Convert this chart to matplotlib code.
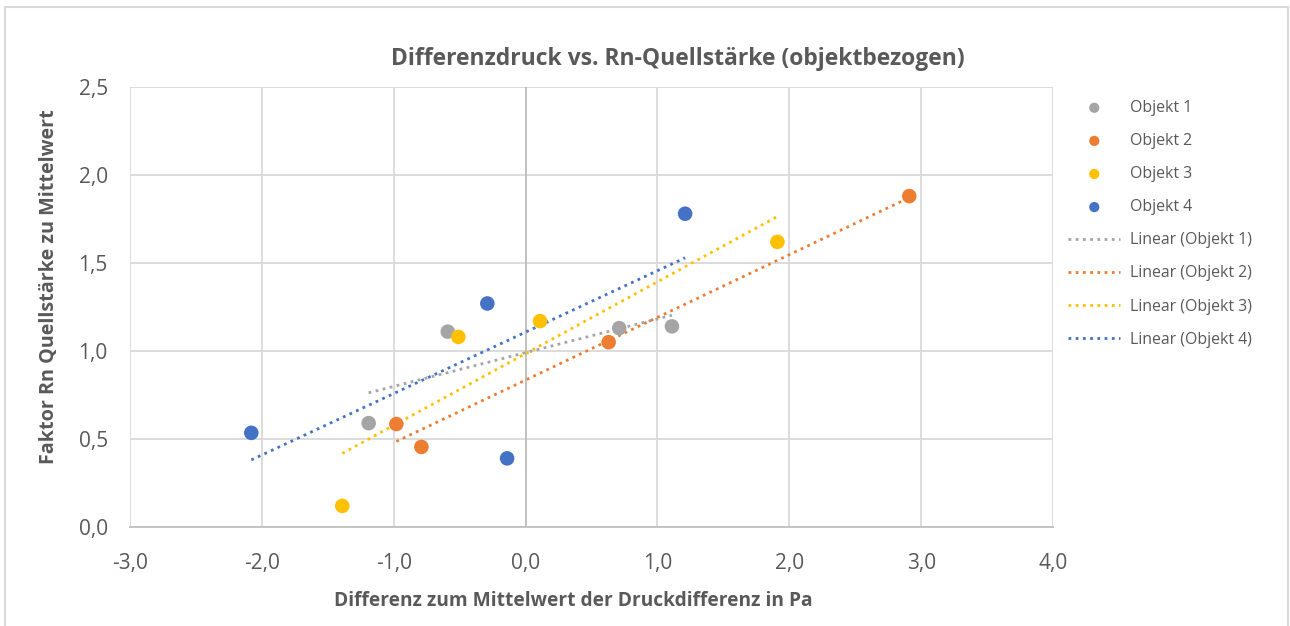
import numpy as np
import matplotlib.pyplot as plt
from matplotlib.patches import Rectangle
from matplotlib.ticker import FuncFormatter

# Messwerte je Objekt (Differenz Druck / Faktor Quellstärke)
obj1_x = [-1.19, -0.59, 0.71, 1.11]
obj1_y = [0.59, 1.11, 1.13, 1.14]
obj2_x = [-0.98, -0.79, 0.63, 2.91]
obj2_y = [0.585, 0.455, 1.05, 1.88]
obj3_x = [-1.39, -0.51, 0.11, 1.91]
obj3_y = [0.12, 1.08, 1.17, 1.62]
obj4_x = [-2.08, -0.29, -0.14, 1.21]
obj4_y = [0.535, 1.27, 0.39, 1.78]

names = ["Objekt 1", "Objekt 2", "Objekt 3", "Objekt 4"]
colors = ["#A5A5A5", "#ED7D31", "#FFC000", "#4472C4"]

xticks = [-3, -2, -1, 0, 1, 2, 3, 4]
yticks = [0, 0.5, 1.0, 1.5, 2.0, 2.5]

txtcol = "#595959"
plt.rcParams['font.family'] = ['Open Sans', 'DejaVu Sans']

fig = plt.figure(figsize=(12.9, 6.26), dpi=100)
ax = fig.add_axes([130/1290, 1-527/626, (1053-130)/1290, (527-87)/626])

# Rahmen ums Diagramm
fig.patches.append(Rectangle((5/1290, -0.01), 1283/1290, 1-7/626+0.01, transform=fig.transFigure,
                             fill=False, edgecolor="#D9D9D9", linewidth=1.5))

xs = [obj1_x, obj2_x, obj3_x, obj4_x]
ys = [obj1_y, obj2_y, obj3_y, obj4_y]

for i in range(4):
    ax.scatter(xs[i], ys[i], s=110, color=colors[i], label=names[i], zorder=3, edgecolors="none")

for i in range(4):
    # lineare Trendlinie
    k, d = np.polyfit(xs[i], ys[i], 1)
    xl = np.array([min(xs[i]), max(xs[i])])
    ax.plot(xl, k*xl+d, linestyle=(0, (1, 1.6)), color=colors[i], linewidth=2,
            label=f"Linear ({names[i]})", zorder=2)

ax.set_xlim(-3, 4)
ax.set_ylim(0, 2.5)
ax.set_xticks(xticks)
ax.set_yticks(yticks)
fmt = FuncFormatter(lambda v, p: f"{v:.1f}".replace(".", ","))
ax.xaxis.set_major_formatter(fmt)
ax.yaxis.set_major_formatter(fmt)
ax.grid(color="#D9D9D9", linewidth=1.3)
ax.set_axisbelow(True)
for s in ["top", "right", "left"]:
    ax.spines[s].set_visible(False)
ax.spines["bottom"].set_color("#BFBFBF")
ax.spines["bottom"].set_linewidth(1.3)
ax.axvline(0, color="#BFBFBF", linewidth=1.3, zorder=1)
ax.tick_params(length=0, labelsize=15, labelcolor=txtcol)
ax.tick_params(axis="x", pad=19)
ax.tick_params(axis="y", pad=16)

ax.set_title("Differenzdruck vs. Rn-Quellstärke (objektbezogen)", fontsize=16.5, fontweight="bold",
             color=txtcol, pad=16, x=(678-130)/(1053-130))
ax.set_xlabel("Differenz zum Mittelwert der Druckdifferenz in Pa", fontsize=13.8, fontweight="bold",
              color=txtcol, labelpad=12, x=(573-130)/(1053-130))
ax.set_ylabel("Faktor Rn Quellstärke zu Mittelwert", fontsize=14.2, fontweight="bold",
              color=txtcol, labelpad=14, y=(527-287)/(527-87))

leg = ax.legend(bbox_to_anchor=(1.001, 1.003), loc="upper left", frameon=False, fontsize=11.4,
                labelcolor=txtcol, handlelength=3.3, labelspacing=1.08, markerscale=0.7,
                handletextpad=0.62)

plt.savefig("out.png", dpi=100)
